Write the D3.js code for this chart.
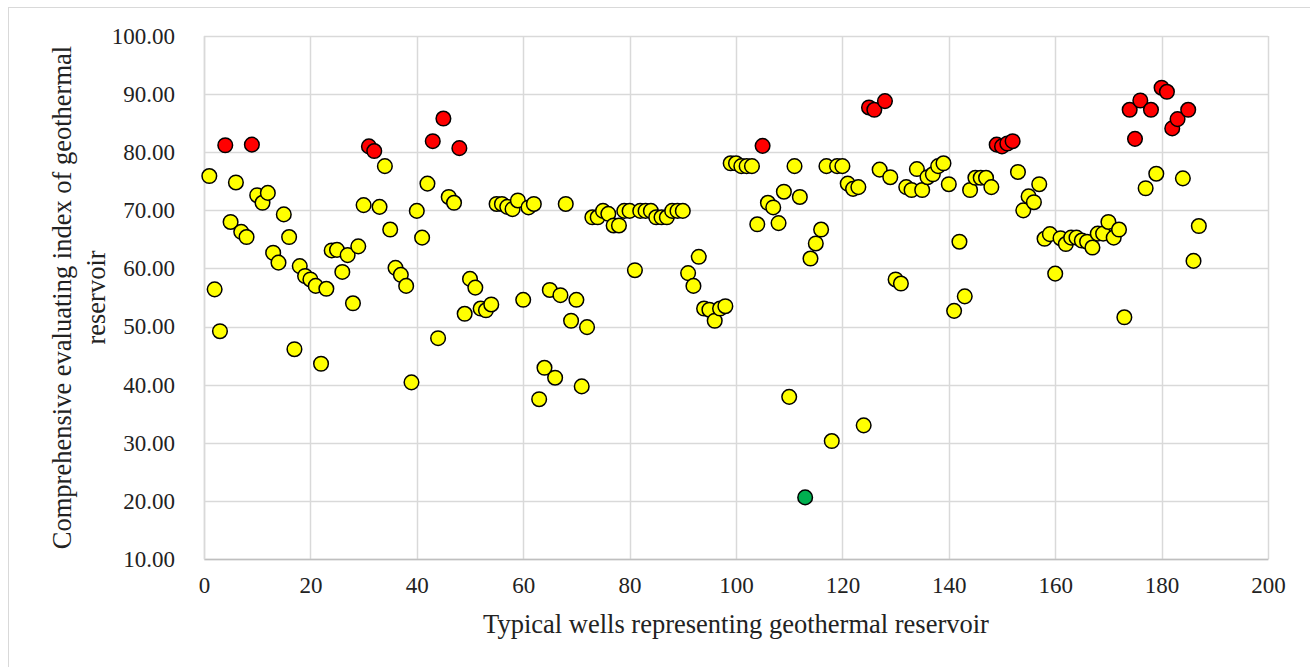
<!DOCTYPE html>
<html>
<head>
<meta charset="utf-8">
<script src="https://cdn.jsdelivr.net/npm/d3@7"></script>
<style>
  body { margin: 0; background: #fff; }
  .axis text { font-family: "Liberation Serif", "Times New Roman", serif; font-size: 23px; fill: #222; }
  .title { font-family: "Liberation Serif", "Times New Roman", serif; font-size: 26.5px; fill: #222; }
</style>
</head>
<body>
<div id="chart"></div>
<script>
// well index (x) and comprehensive evaluating index (y)
var wells = d3.range(1, 188);
var scores = [
  75.9, 56.4, 49.2, 81.2, 68.0, 74.8, 66.3, 65.4, 81.3, 72.6,
  71.3, 73.0, 62.7, 61.0, 69.3, 65.4, 46.1, 60.4, 58.7, 58.1,
  57.0, 43.6, 56.5, 63.1, 63.2, 59.4, 62.3, 54.0, 63.8, 70.9,
  81.0, 80.2, 70.6, 77.6, 66.7, 60.1, 58.9, 57.0, 40.4, 69.9,
  65.3, 74.6, 81.9, 48.0, 85.8, 72.3, 71.3, 80.7, 52.2, 58.2,
  56.7, 53.1, 52.8, 53.8, 71.1, 71.1, 70.6, 70.2, 71.7, 54.6,
  70.5, 71.1, 37.5, 42.9, 56.3, 41.2, 55.4, 71.1, 51.0, 54.6,
  39.7, 49.9, 68.8, 68.8, 69.9, 69.4, 67.4, 67.4, 69.9, 69.9,
  59.7, 69.9, 69.9, 69.9, 68.8, 68.8, 68.8, 69.9, 69.9, 69.9,
  59.2, 57.0, 62.0, 53.1, 52.9, 51.0, 53.1, 53.5, 78.1, 78.1,
  77.6, 77.6, 77.6, 67.6, 81.1, 71.3, 70.5, 67.8, 73.2, 37.9,
  77.6, 72.3, 20.6, 61.7, 64.3, 66.7, 77.6, 30.3, 77.6, 77.6,
  74.6, 73.7, 74.0, 33.0, 87.7, 87.3, 77.0, 88.8, 75.7, 58.1,
  57.4, 74.0, 73.5, 77.1, 73.5, 75.7, 76.2, 77.6, 78.1, 74.5,
  52.7, 64.6, 55.2, 73.5, 75.6, 75.6, 75.6, 74.0, 81.3, 81.0,
  81.5, 81.9, 76.6, 70.0, 72.4, 71.4, 74.5, 65.1, 65.9, 59.1,
  65.2, 64.2, 65.3, 65.3, 64.8, 64.6, 63.6, 66.0, 66.0, 68.0,
  65.3, 66.7, 51.6, 87.3, 82.3, 88.9, 73.8, 87.3, 76.3, 91.1,
  90.4, 84.1, 85.7, 75.5, 87.3, 61.3, 67.3
];
var xTicks = [0, 20, 40, 60, 80, 100, 120, 140, 160, 180, 200];
var yTicks = [10, 20, 30, 40, 50, 60, 70, 80, 90, 100];

var data = wells.map(function(w, i) { return { x: w, y: scores[i] }; });

var width = 1310, height = 667;
var margin = { left: 204, right: 42, top: 36, bottom: 108 };

var svg = d3.select("#chart").append("svg")
  .attr("width", width)
  .attr("height", height);

// outer chart border (runs off the right and bottom edges)
svg.append("rect")
  .attr("x", 8.5).attr("y", 7.5)
  .attr("width", width + 20).attr("height", height + 20)
  .attr("fill", "#fff")
  .attr("stroke", "#d9d9d9");

var xScale = d3.scaleLinear().domain([0, 200]).range([margin.left, width - margin.right]);
var yScale = d3.scaleLinear().domain([10, 100]).range([height - margin.bottom, margin.top]);

// gridlines
svg.append("g")
  .selectAll("line.h")
  .data(yTicks)
  .enter().append("line")
  .attr("x1", xScale(0)).attr("x2", xScale(200))
  .attr("y1", function(d) { return Math.round(yScale(d)) + 0.5; })
  .attr("y2", function(d) { return Math.round(yScale(d)) + 0.5; })
  .attr("stroke", "#d9d9d9").attr("stroke-width", 1.5);

svg.append("g")
  .selectAll("line.v")
  .data(xTicks)
  .enter().append("line")
  .attr("y1", yScale(10)).attr("y2", yScale(100))
  .attr("x1", function(d) { return Math.round(xScale(d)) + 0.5; })
  .attr("x2", function(d) { return Math.round(xScale(d)) + 0.5; })
  .attr("stroke", "#d9d9d9").attr("stroke-width", 1.5);

// axes
var xAxis = d3.axisBottom(xScale).tickValues(xTicks).tickSize(0).tickPadding(18);
var yAxis = d3.axisLeft(yScale).tickValues(yTicks).tickSize(0).tickPadding(29)
  .tickFormat(d3.format(".2f"));

var gx = svg.append("g")
  .attr("class", "axis")
  .attr("transform", "translate(0," + yScale(10) + ")")
  .call(xAxis);
gx.select(".domain").attr("stroke", "#bfbfbf").attr("stroke-width", 1.5);
gx.selectAll("text").attr("dy", "0.71em");

var gy = svg.append("g")
  .attr("class", "axis")
  .attr("transform", "translate(" + xScale(0) + ",0)")
  .call(yAxis);
gy.select(".domain").attr("stroke", "#d9d9d9").attr("stroke-width", 1.5);

// points
function fillFor(v) {
  if (v >= 80) return "#ff0000";
  if (v < 25) return "#00b050";
  return "#ffff00";
}

svg.append("g")
  .selectAll("circle")
  .data(data)
  .enter().append("circle")
  .attr("cx", function(d) { return xScale(d.x); })
  .attr("cy", function(d) { return yScale(d.y); })
  .attr("r", 7.3)
  .attr("fill", function(d) { return fillFor(d.y); })
  .attr("stroke", "#000")
  .attr("stroke-width", 1.5);

// axis titles
svg.append("text")
  .attr("class", "title")
  .attr("x", (xScale(0) + xScale(200)) / 2)
  .attr("y", 633)
  .attr("text-anchor", "middle")
  .text("Typical wells representing geothermal reservoir");

var yt = svg.append("text")
  .attr("class", "title")
  .attr("transform", "translate(71," + ((yScale(10) + yScale(100)) / 2) + ") rotate(-90)")
  .attr("text-anchor", "middle");
yt.append("tspan").attr("x", 0).attr("dy", 0).text("Comprehensive evaluating index of geothermal");
yt.append("tspan").attr("x", 0).attr("dy", 34).text("reservoir");
</script>
</body>
</html>
